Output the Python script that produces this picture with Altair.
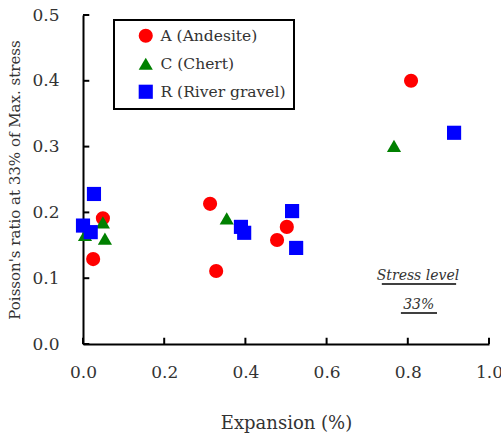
import altair as alt
import pandas as pd

series = ["A (Andesite)", "C (Chert)", "R (River gravel)"]
colors = ["#ff0000", "#008000", "#0000ff"]
shapes = ["circle", "triangle-up", "square"]

a_x = [0.049, 0.025, 0.313, 0.328, 0.478, 0.502, 0.808]
a_y = [0.191, 0.129, 0.213, 0.111, 0.158, 0.178, 0.400]
c_x = [0.005, 0.049, 0.054, 0.354, 0.766]
c_y = [0.166, 0.185, 0.160, 0.191, 0.301]
r_x = [0.0, 0.019, 0.027, 0.389, 0.397, 0.515, 0.525, 0.914]
r_y = [0.180, 0.170, 0.228, 0.178, 0.169, 0.202, 0.146, 0.321]

x_ticks = [0.0, 0.2, 0.4, 0.6, 0.8, 1.0]
y_ticks = [0.0, 0.1, 0.2, 0.3, 0.4, 0.5]

note_text = ["Stress level", "33%"]
note_x = [0.825, 0.827]
note_y = [0.103, 0.059]
line_x = [0.736, 0.783]
line_x2 = [0.919, 0.872]
line_y = [0.091, 0.047]

rows = []
for name, xs, ys in zip(series, [a_x, c_x, r_x], [a_y, c_y, r_y]):
    for xv, yv in zip(xs, ys):
        rows.append({"x": xv, "y": yv, "series": name})
df = pd.DataFrame(rows)

W, H = 406, 329
FONT = "DejaVu Serif"
TXT = "#333333"

xscale = alt.Scale(domain=[0, 1], nice=False, zero=False)
yscale = alt.Scale(domain=[0, 0.5], nice=False, zero=False)

main_x_axis = alt.Axis(values=x_ticks, format=".1f", ticks=False, grid=False,
                       labelPadding=20, titlePadding=34, titleFontSize=18,
                       labelFontSize=17, labelFont=FONT, titleFont=FONT,
                       title="Expansion (%)")
main_y_axis = alt.Axis(values=y_ticks, format=".1f", ticks=False, grid=False,
                       labelPadding=24, titlePadding=9, titleFontSize=15,
                       labelFontSize=17, labelFont=FONT, titleFont=FONT,
                       title="Poisson's ratio at 33% of Max. stress")

points = alt.Chart(df).mark_point(filled=True, size=200, opacity=1).encode(
    x=alt.X("x:Q", scale=xscale, axis=main_x_axis),
    y=alt.Y("y:Q", scale=yscale, axis=main_y_axis),
    color=alt.Color("series:N", scale=alt.Scale(domain=series, range=colors),
                    legend=alt.Legend(title=None, orient="none", legendX=31, legendY=5,
                                      strokeColor="black", fillColor="white",
                                      padding=8, labelFont=FONT, labelFontSize=15.5,
                                      labelColor=TXT, symbolSize=200, rowPadding=11,
                                      labelOffset=7, symbolOffset=16, symbolStrokeWidth=0,
                                      labelExpr="datum.label + '   '")),
    shape=alt.Shape("series:N", scale=alt.Scale(domain=series, range=shapes)),
)

# inward tick marks at the axis tick values (length given in data units)
xt_df = pd.DataFrame({"v": x_ticks})
yt_df = pd.DataFrame({"v": y_ticks})
xticks = alt.Chart(xt_df).mark_rule(color="black", strokeWidth=2).encode(
    x=alt.X("v:Q", scale=xscale), y=alt.datum(0.0), y2=alt.datum(0.0095))
yticks = alt.Chart(yt_df).mark_rule(color="black", strokeWidth=2).encode(
    y=alt.Y("v:Q", scale=yscale), x=alt.datum(0.0), x2=alt.datum(0.0155))

notes_df = pd.DataFrame({"t": note_text, "x": note_x, "y": note_y})
notes = alt.Chart(notes_df).mark_text(font=FONT, fontSize=14, fontStyle="italic",
                                      color=TXT, align="center", baseline="middle").encode(
    x=alt.X("x:Q", scale=xscale), y=alt.Y("y:Q", scale=yscale), text="t:N")

lines_df = pd.DataFrame({"x": line_x, "x2": line_x2, "y": line_y})
underlines = alt.Chart(lines_df).mark_rule(color="black", strokeWidth=1.5).encode(
    x=alt.X("x:Q", scale=xscale), x2="x2:Q", y=alt.Y("y:Q", scale=yscale))

chart = alt.layer(points, xticks, yticks, notes, underlines).properties(
    width=W, height=H,
    autosize=alt.AutoSizeParams(type="none"),
    padding={"left": 83, "top": 15, "right": 12, "bottom": 93},
).configure_view(stroke=None).configure_legend(strokeWidth=2).configure_axis(
    domainColor="black", domainWidth=2, labelColor=TXT, labelFlush=False,
    labelBound=False, titleFontWeight="normal", titleColor=TXT, grid=False
)

chart.save("out.html", embed_options={"renderer": "svg", "actions": False})
